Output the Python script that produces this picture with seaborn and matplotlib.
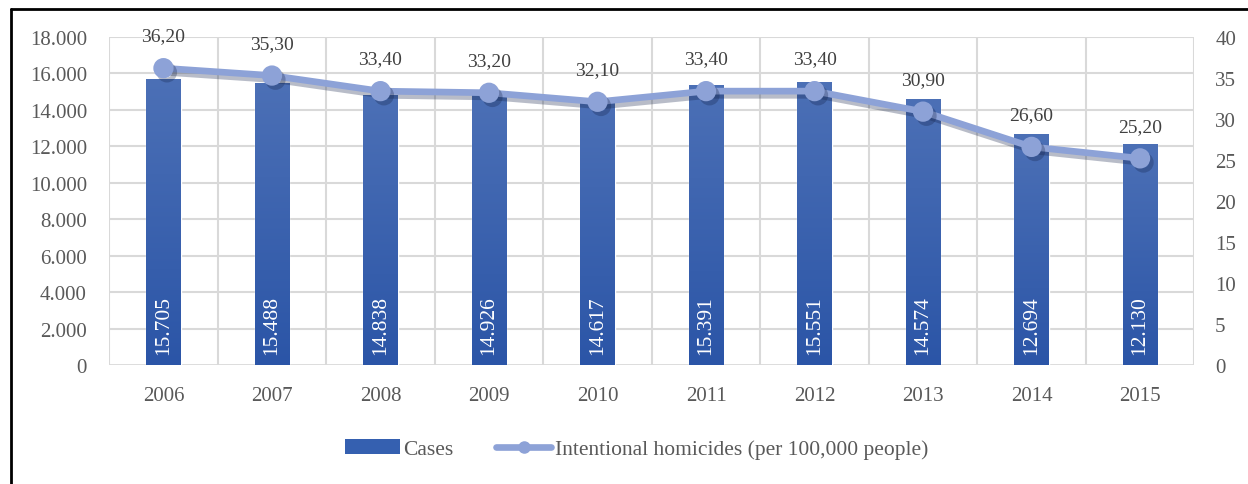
import matplotlib.pyplot as plt
import matplotlib.patheffects as pe
import seaborn as sns
import pandas as pd
import numpy as np
from matplotlib.colors import LinearSegmentedColormap
from matplotlib.lines import Line2D
from matplotlib.patches import Patch
from matplotlib.ticker import FuncFormatter, MultipleLocator

sns.set_theme(style="white")
plt.rcParams['font.family'] = ['Liberation Serif', 'DejaVu Serif']

years = ["2006", "2007", "2008", "2009", "2010", "2011", "2012", "2013", "2014", "2015"]
cases = [15705, 15488, 14838, 14926, 14617, 15391, 15551, 14574, 12694, 12130]
homicide_rate = [36.20, 35.30, 33.40, 33.20, 32.10, 33.40, 33.40, 30.90, 26.60, 25.20]

df = pd.DataFrame({"year": years, "cases": cases, "rate": homicide_rate})

bar_top = "#4c70b6"
bar_bottom = "#2b55a7"
line_color = "#8da2d7"
text_grey = "#595959"
grid_grey = "#d9d9d9"

fig = plt.figure(figsize=(12.48, 4.85), dpi=100)
ax = fig.add_axes([0.0875, 0.2454, 0.8695, 0.6762])

sns.barplot(data=df, x="year", y="cases", color=bar_bottom, width=0.32,
            saturation=1, ax=ax, zorder=2)

# vertical gradient inside every bar
cmap = LinearSegmentedColormap.from_list("bar", [bar_bottom, bar_top])
grad = np.linspace(0, 1, 256).reshape(-1, 1)
for p in list(ax.patches):
    x0, w, h = p.get_x(), p.get_width(), p.get_height()
    im = ax.imshow(grad, extent=[x0, x0 + w, 0, h], origin="lower",
                   aspect="auto", cmap=cmap, zorder=2.1)
    im.set_clip_path(p)

ax.set_xlim(-0.5, len(years) - 0.5)
ax.set_ylim(0, 18000)
ax.yaxis.set_major_locator(MultipleLocator(2000))
ax.yaxis.set_major_formatter(FuncFormatter(lambda v, _: f"{int(v):,}".replace(",", ".")))
ax.set_xticks(range(len(years)))
ax.set_xticklabels(years)
ax.set_xlabel("")
ax.set_ylabel("")

# grid: horizontal at each 2000, vertical between categories
ax.grid(False)
for yv in range(2000, 18001, 2000):
    ax.axhline(yv, color=grid_grey, lw=1.5, zorder=0)
for xv in np.arange(-0.5, len(years), 1.0):
    ax.axvline(xv, color=grid_grey, lw=1.5, zorder=0)
ax.axhline(0, color=grid_grey, lw=2, zorder=1)
for s in ax.spines.values():
    s.set_visible(False)

ax.tick_params(axis="x", length=0, pad=15, labelsize=15, labelcolor=text_grey)
ax.tick_params(axis="y", length=0, pad=16, labelsize=15, labelcolor=text_grey)

# bar value labels, rotated, white, near the base
for i, v in enumerate(cases):
    ax.text(i, 600, f"{v:,}".replace(",", "."), rotation=90, ha="center",
            va="bottom", color="white", fontsize=15.5, zorder=5)

ax2 = ax.twinx()
sns.pointplot(data=df, x="year", y="rate", color=line_color, ax=ax2,
              markers="o", markersize=11, linewidth=4.8, zorder=4)
for ln in ax2.lines:
    ln.set_path_effects([pe.SimpleLineShadow(offset=(2.5, -3), shadow_color="#15244a",
                                             alpha=0.3), pe.Normal()])
ax2.set_xlim(-0.5, len(years) - 0.5)
ax2.set_ylim(0, 40)
ax2.yaxis.set_major_locator(MultipleLocator(5))
ax2.set_ylabel("")
ax2.grid(False)
for s in ax2.spines.values():
    s.set_visible(False)
ax2.tick_params(axis="y", length=0, pad=15, labelsize=15, labelcolor=text_grey)

for i, v in enumerate(homicide_rate):
    ax2.annotate(f"{v:.2f}".replace(".", ","), (i, v), xytext=(0, 17),
                 textcoords="offset points", ha="center", va="bottom",
                 fontsize=14, color="#404040")

# legend
handles = [Patch(facecolor="#3560b0", edgecolor="none"),
           Line2D([0], [0], color=line_color, lw=4.8, marker="o", markersize=8)]
labels = ["Cases", "Intentional homicides (per 100,000 people)"]
fig.legend(handles, labels, loc="center", bbox_to_anchor=(0.51, 0.072), ncol=2,
           frameon=False, fontsize=15.5, labelcolor=text_grey, handlelength=2.55,
           handletextpad=0.15, columnspacing=2.0, handleheight=0.65)

# outer frame (left and top edges visible)
fig.add_artist(Line2D([11 / 1248, 11 / 1248], [0, 1 - 10 / 485], transform=fig.transFigure,
                      color="black", lw=2))
fig.add_artist(Line2D([11 / 1248, 1], [1 - 10 / 485, 1 - 10 / 485], transform=fig.transFigure,
                      color="black", lw=2))

fig.savefig("out.png", dpi=100)
